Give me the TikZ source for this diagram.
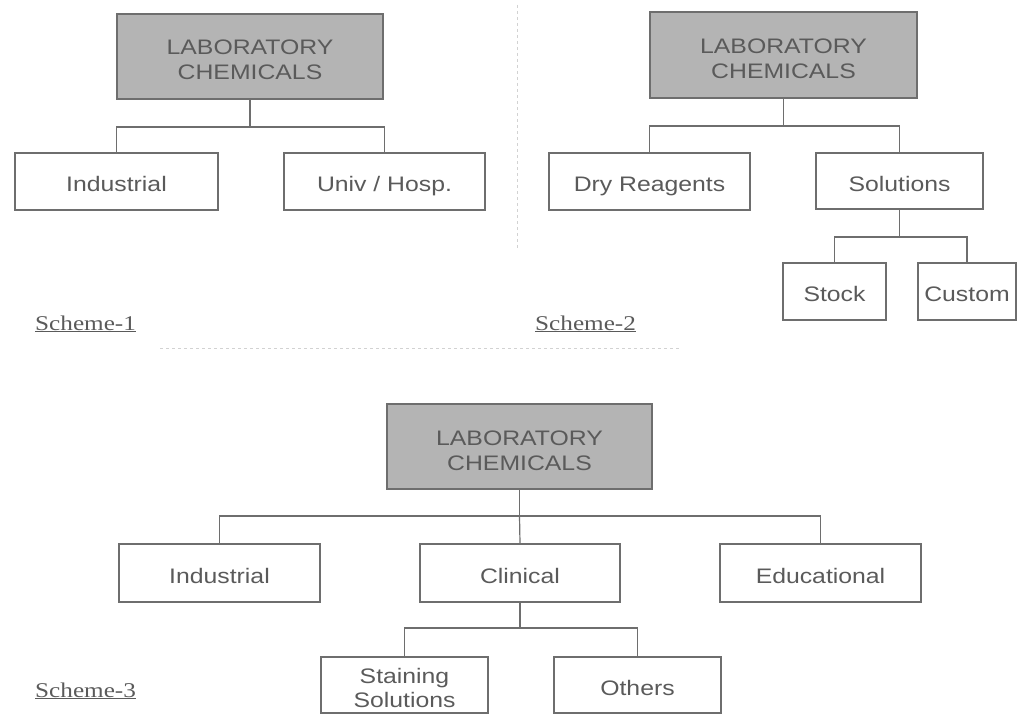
\documentclass[tikz,border=0pt]{standalone}
\usepackage{fontspec}
\setmainfont{Liberation Sans}[FakeStretch=1.18]
\newfontfamily\schemefont{Liberation Serif}[FakeStretch=1.2]
\usetikzlibrary{calc}
\definecolor{boxgray}{HTML}{B4B4B4}
\definecolor{linegray}{HTML}{6E6E6E}
\definecolor{inkgray}{HTML}{5A5A5A}
\tikzset{
	headbox/.style={draw=linegray, fill=boxgray, line width=1.3pt, text=inkgray, align=center, inner sep=0pt, text height=47pt, text depth=0pt, font=\fontsize{21}{25}\selectfont},
	itembox/.style={draw=linegray, line width=1.2pt, text=inkgray, align=center, inner sep=0pt, font=\fontsize{21}{24}\selectfont},
	oneline/.style={itembox, text height=20pt, text depth=0pt},
	twoline/.style={itembox, text height=44pt, text depth=0pt},
	branch/.style={draw=linegray, line width=1.2pt},
	schemelabel/.style={anchor=base west, inner sep=0pt, text=inkgray, font=\schemefont\fontsize{21}{24}\selectfont},
	divider/.style={draw=gray!35, dashed, line width=1pt}
}

\begin{document}
\begin{tikzpicture}[x=1pt, y=-1pt]
			%%%%% START %%%%%
			\useasboundingbox (0,0) rectangle (1020,717);
			
			\draw[divider] (517,5) -- (517,250);
			\draw[divider] (160,348) -- (680,348);
			
			% scheme 1
			\node[headbox, minimum width=266, minimum height=85] (t1) at (250,56.5) {LABORATORY\\CHEMICALS};
			\node[oneline, minimum width=203, minimum height=57] (ind1) at (116.5,181.5) {Industrial};
			\node[oneline, minimum width=201, minimum height=57] (uni1) at (384.5,181.5) {Univ / Hosp.};
			\coordinate (bar1) at (250,127);
			\draw[branch] (t1.south) -- (bar1) -| (ind1.north);
			\draw[branch] (bar1) -| (uni1.north);
			\node[schemelabel] (lab1) at (35,330) {\underline{Scheme-1}};
			
			% scheme 2
			\node[headbox, minimum width=267, minimum height=86] (t2) at (783.5,55) {LABORATORY\\CHEMICALS};
			\node[oneline, minimum width=201, minimum height=57] (dry2) at (649.5,181.5) {Dry Reagents};
			\node[oneline, minimum width=167, minimum height=56] (sol2) at (899.5,181) {Solutions};
			\node[oneline, minimum width=103, minimum height=57] (stk2) at (834.5,291.5) {Stock};
			\node[oneline, minimum width=98, minimum height=57] (cus2) at (967,291.5) {Custom};
			\coordinate (bar2) at (783.5,126);
			\coordinate (bar2s) at (899.5,237);
			\draw[branch] (t2.south) -- (bar2) -| (dry2.north);
			\draw[branch] (bar2) -| (sol2.north);
			\draw[branch] (sol2.south) -- (bar2s) -| (stk2.north);
			\draw[branch] (bar2s) -| (cus2.north);
			\node[schemelabel] (lab2) at (535,330) {\underline{Scheme-2}};
			
			% scheme 3
			\node[headbox, minimum width=265, minimum height=85] (t3) at (519.5,446.5) {LABORATORY\\CHEMICALS};
			\node[oneline, minimum width=201, minimum height=58] (ind3) at (219.5,573) {Industrial};
			\node[oneline, minimum width=200, minimum height=58] (cli3) at (520,573) {Clinical};
			\node[oneline, minimum width=201, minimum height=58] (edu3) at (820.5,573) {Educational};
			\node[twoline, minimum width=167, minimum height=56] (stn3) at (404.5,685) {Staining\\Solutions};
			\node[oneline, minimum width=167, minimum height=56] (oth3) at (637.5,685) {Others};
			\coordinate (bar3) at (519.5,516);
			\coordinate (bar3s) at (520,628);
			\draw[branch] (t3.south) -- (bar3) -| (ind3.north);
			\draw[branch] (bar3) -- (cli3.north);
			\draw[branch] (bar3) -| (edu3.north);
			\draw[branch] (cli3.south) -- (bar3s) -| (stn3.north);
			\draw[branch] (bar3s) -| (oth3.north);
			\node[schemelabel] (lab3) at (35,697) {\underline{Scheme-3}};
			%%%%% END %%%%%
\end{tikzpicture}
\end{document}
